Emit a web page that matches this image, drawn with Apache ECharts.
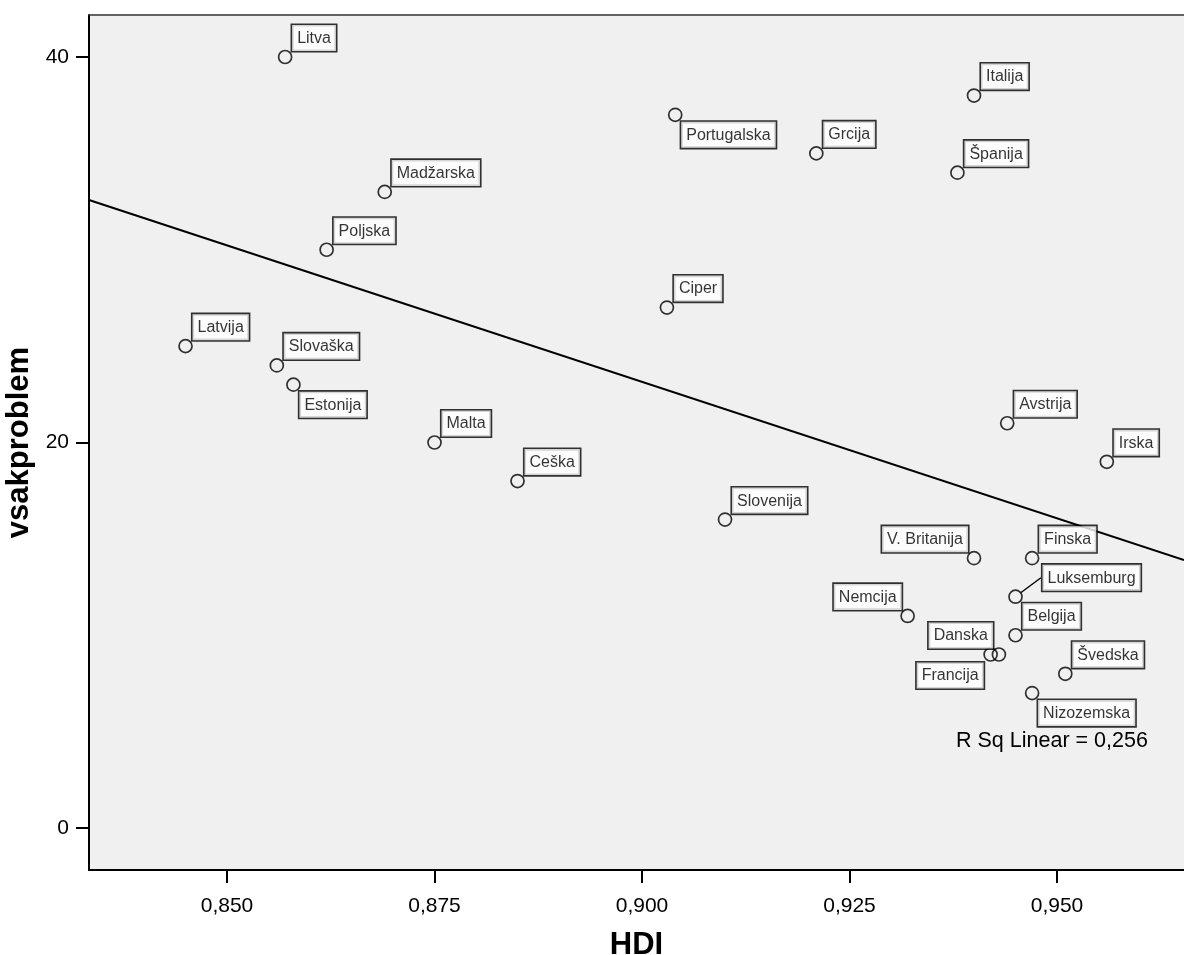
<!DOCTYPE html>
<html>
<head>
<meta charset="utf-8">
<title>vsakproblem vs HDI</title>
<script src="https://cdn.jsdelivr.net/npm/echarts@6/dist/echarts.min.js"></script>
<style>
  html, body { margin: 0; padding: 0; background: #fff; }
  #main { width: 1184px; height: 955px; }
</style>
</head>
<body>
<div id="main"></div>
<script>
// 数据
var countries = ['Litva', 'Italija', 'Portugalska', 'Grcija', 'Španija', 'Madžarska', 'Poljska', 'Ciper',
    'Latvija', 'Slovaška', 'Estonija', 'Malta', 'Ceška', 'Avstrija', 'Irska', 'Slovenija',
    'V. Britanija', 'Finska', 'Luksemburg', 'Nemcija', 'Belgija', 'Danska', 'Francija', 'Švedska', 'Nizozemska'];
var hdi = [0.857, 0.940, 0.904, 0.921, 0.938, 0.869, 0.862, 0.903,
    0.845, 0.856, 0.858, 0.875, 0.885, 0.944, 0.956, 0.910,
    0.940, 0.947, 0.945, 0.932, 0.945, 0.943, 0.942, 0.951, 0.947];
var vsakproblem = [40, 38, 37, 35, 34, 33, 30, 27,
    25, 24, 23, 20, 18, 21, 19, 16,
    14, 14, 12, 11, 10, 9, 9, 8, 7];
var xTicks = [0.850, 0.875, 0.900, 0.925, 0.950];
var yTicks = [0, 20, 40];

var xMin = 0.83337, xMax = 0.96530;
var yMin = -2.179, yMax = 42.179;

// label placement: ur = up-right, dr = down-right, ul = up-left, dl = down-left
var placement = {
    'Portugalska': 'dr', 'Estonija': 'dr', 'Nizozemska': 'dr',
    'V. Britanija': 'ul', 'Nemcija': 'ul', 'Danska': 'ul',
    'Francija': 'dl', 'Luksemburg': 'lead'
};
var placeStyle = {
    ur: { offset: [7, -6], align: 'left', verticalAlign: 'bottom' },
    dr: { offset: [6, 7], align: 'left', verticalAlign: 'top' },
    ul: { offset: [-6, -6], align: 'right', verticalAlign: 'bottom' },
    dl: { offset: [-7, 8], align: 'right', verticalAlign: 'top' },
    lead: { offset: [27, -6], align: 'left', verticalAlign: 'bottom' }
};

var points = [];
for (var i = 0; i < countries.length; i++) {
    var p = placeStyle[placement[countries[i]] || 'ur'];
    var item = {
        name: countries[i],
        value: [hdi[i], vsakproblem[i]],
        label: { offset: p.offset, align: p.align, verticalAlign: p.verticalAlign }
    };
    if (placement[countries[i]] === 'lead') {
        item.labelLine = { show: true, lineStyle: { color: '#000', width: 1.4 } };
    }
    points.push(item);
}

/*linear fit*/
var n = hdi.length, mx = 0, my = 0;
for (var i = 0; i < n; i++) { mx += hdi[i]; my += vsakproblem[i]; }
mx /= n; my /= n;
var sxy = 0, sxx = 0, syy = 0;
for (var i = 0; i < n; i++) {
    sxy += (hdi[i] - mx) * (vsakproblem[i] - my);
    sxx += (hdi[i] - mx) * (hdi[i] - mx);
    syy += (vsakproblem[i] - my) * (vsakproblem[i] - my);
}
var slope = sxy / sxx;
var icpt = my - slope * mx;
var r2 = (sxy * sxy) / (sxx * syy);
var fitLine = [[xMin, icpt + slope * xMin], [xMax, icpt + slope * xMax]];

var font = 'Liberation Sans, Arial, sans-serif';

var myChart = echarts.init(document.getElementById('main'));

var option = {
    backgroundColor: '#ffffff',
    animation: false,
    grid: {
        left: 89, top: 15, right: 0, bottom: 85,
        containLabel: false, outerBoundsMode: 'none',
        show: true, backgroundColor: '#f0f0f0', borderWidth: 0
    },
    xAxis: [{
        type: 'value', min: xMin, max: xMax,
        name: 'HDI', nameLocation: 'middle', nameGap: 60,
        nameTextStyle: { fontFamily: font, fontSize: 31, fontWeight: 'bold', color: '#000' },
        axisLine: { show: true, onZero: false, lineStyle: { color: '#000', width: 2 } },
        axisTick: { show: true, length: 13, customValues: xTicks, lineStyle: { color: '#000', width: 2 } },
        axisLabel: {
            customValues: xTicks, margin: 26, color: '#000', fontFamily: font, fontSize: 21,
            formatter: function (v) { return v.toFixed(3).replace('.', ','); }
        },
        splitLine: { show: false }
    }, {
        // top frame line only
        type: 'value', position: 'top', min: xMin, max: xMax,
        axisLine: { show: true, onZero: false, lineStyle: { color: '#333', width: 1.5 } },
        axisTick: { show: false }, axisLabel: { show: false }, splitLine: { show: false }
    }],
    yAxis: {
        type: 'value', min: yMin, max: yMax,
        name: 'vsakproblem', nameLocation: 'middle', nameGap: 54, nameRotate: 90,
        nameTextStyle: { fontFamily: font, fontSize: 31, fontWeight: 'bold', color: '#000' },
        axisLine: { show: true, onZero: false, lineStyle: { color: '#000', width: 2 } },
        axisTick: { show: true, length: 13, customValues: yTicks, lineStyle: { color: '#000', width: 2 } },
        axisLabel: { customValues: yTicks, margin: 20, color: '#000', fontFamily: font, fontSize: 21 },
        splitLine: { show: false }
    },
    graphic: [{
        type: 'text', left: 956, top: 730,
        style: {
            text: 'R Sq Linear = ' + r2.toFixed(3).replace('.', ','),
            fontFamily: font, fontSize: 21.5, fill: '#000'
        }
    }],
    series: [
        {
            name: 'fit', type: 'line', data: fitLine, symbol: 'none',
            lineStyle: { color: '#000', width: 2 }, silent: true, z: 2
        },
        {
            name: 'vsakproblem', type: 'scatter', data: points,
            symbol: 'circle', symbolSize: 13,
            itemStyle: { color: 'transparent', borderColor: '#000', borderWidth: 1.7 },
            label: {
                show: true, position: 'inside',
                formatter: '{b}', color: '#000', fontFamily: font, fontSize: 16, lineHeight: 19,
                backgroundColor: '#fff', borderColor: '#000', borderWidth: 1.6, padding: [4, 5, 3, 5]
            },
            z: 3
        }
    ]
};

myChart.setOption(option);
</script>
</body>
</html>
